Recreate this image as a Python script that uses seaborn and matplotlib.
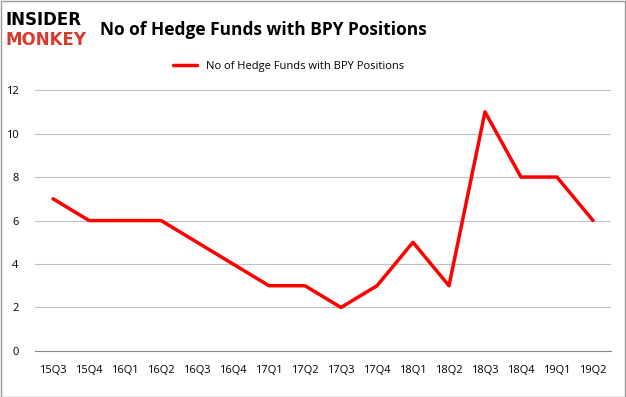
import matplotlib
matplotlib.use("Agg")
import matplotlib.pyplot as plt
import seaborn as sns
import pandas as pd

# Quarter labels and hedge fund counts
quarters = ["15Q3", "15Q4", "16Q1", "16Q2", "16Q3", "16Q4", "17Q1", "17Q2",
            "17Q3", "17Q4", "18Q1", "18Q2", "18Q3", "18Q4", "19Q1", "19Q2"]
funds = [7, 6, 6, 6, 5, 4, 3, 3, 2, 3, 5, 3, 11, 8, 8, 6]
y_ticks = [0, 2, 4, 6, 8, 10, 12]

label = "No of Hedge Funds with BPY Positions"
df = pd.DataFrame({"quarter": quarters, "funds": funds, "pos": range(len(quarters))})

sns.set_style("white")
plt.rcParams["font.family"] = ["Open Sans", "DejaVu Sans"]
plt.rcParams["text.color"] = "black"
plt.rcParams["xtick.labelcolor"] = "black"
plt.rcParams["ytick.labelcolor"] = "black"

fig = plt.figure(figsize=(6.26, 3.97), dpi=100)
ax = fig.add_axes([0.056, 0.116, 0.92, 0.657])

sns.lineplot(data=df, x="pos", y="funds", color="#ff0000", linewidth=2.5,
             label=label, ax=ax)

ax.set_xlim(-0.5, len(quarters) - 0.5)
ax.set_ylim(0, 12)
ax.set_yticks(y_ticks)
ax.set_yticklabels([str(v) for v in y_ticks], fontsize=8)
ax.set_xticks(df["pos"])
ax.set_xticklabels(quarters, fontsize=8)
ax.set_xticks([i + 0.5 for i in range(-1, len(quarters))], minor=True)
ax.tick_params(axis="x", which="major", length=0, pad=10)
ax.tick_params(axis="x", which="minor", length=5, color="#888888", direction="out")
ax.tick_params(axis="y", length=0, pad=12)
ax.grid(axis="y", color="#c0c0c0", linewidth=0.8)
ax.set_axisbelow(True)
ax.set_xlabel("")
ax.set_ylabel("")
for s in ["top", "right", "left"]:
    ax.spines[s].set_visible(False)
ax.spines["bottom"].set_color("#888888")

ax.legend(loc="lower center", bbox_to_anchor=(0.44, 1.03), frameon=False,
          fontsize=8, handlelength=2.2)

fig.text(0.42, 0.925, label, fontsize=12.5, fontweight="bold", ha="center", va="center")
fig.text(0.008, 0.95, "INSIDER", fontsize=12, fontweight="heavy", color="black",
         ha="left", va="center", family="DejaVu Sans")
fig.text(0.008, 0.898, "MONKEY", fontsize=12, fontweight="heavy", color="#d93a2b",
         ha="left", va="center", family="DejaVu Sans")

fig.patches.append(plt.Rectangle((0.001, 0.001), 0.997, 0.996, transform=fig.transFigure,
                                 fill=False, edgecolor="#999999", linewidth=1))

plt.savefig("out.png", dpi=100)
